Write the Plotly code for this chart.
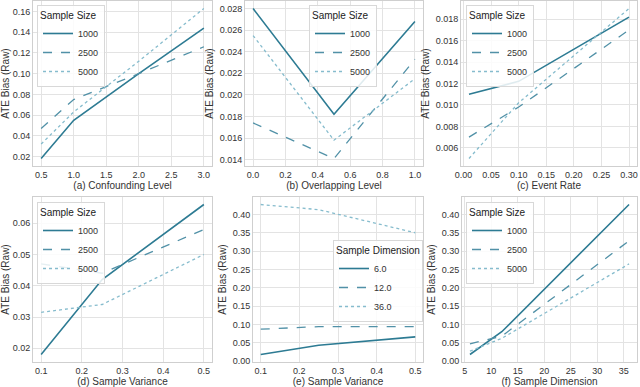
import plotly.graph_objects as go

# panel (a) confounding level
conf_x = [0.5, 1.0, 2.0, 3.0]
conf_1000 = [0.018, 0.055, 0.100, 0.144]
conf_2500 = [0.047, 0.075, 0.100, 0.126]
conf_5000 = [0.032, 0.063, 0.112, 0.163]

# panel (b) overlapping level
ovl_x = [0.0, 0.5, 1.0]
ovl_1000 = [0.0280, 0.0182, 0.0268]
ovl_2500 = [0.0174, 0.0141, 0.0233]
ovl_5000 = [0.0255, 0.0158, 0.0215]

# panel (c) event rate
evt_x = [0.01, 0.10, 0.30]
evt_1000 = [0.0110, 0.0122, 0.0182]
evt_2500 = [0.0070, 0.0098, 0.0170]
evt_5000 = [0.0050, 0.0102, 0.0190]

# panel (d) sample variance
var_x = [0.1, 0.25, 0.5]
var_1000 = [0.018, 0.042, 0.066]
var_2500 = [0.047, 0.044, 0.058]
var_5000 = [0.0315, 0.034, 0.050]

# panel (e) sample variance by dimension
dimvar_x = [0.1, 0.25, 0.5]
dimvar_6 = [0.018, 0.043, 0.066]
dimvar_12 = [0.087, 0.094, 0.094]
dimvar_36 = [0.427, 0.413, 0.350]

# panel (f) sample dimension
dim_x = [6, 12, 36]
dim_1000 = [0.018, 0.080, 0.427]
dim_2500 = [0.047, 0.068, 0.328]
dim_5000 = [0.027, 0.062, 0.265]

size_names = ["1000", "2500", "5000"]
dim_names = ["6.0", "12.0", "36.0"]

colors = ["#2d7b93", "#5191a7", "#86bccd"]
dashes = ["solid", "dash", "dot"]
FONT = "Liberation Sans, Arial, sans-serif"
GRID = "#e3e3e3"
EDGE = "#cfcfcf"

W, H = 640, 387
def px_x(a, b):
    return [a / W, b / W]
def px_y(top, bot):
    return [1 - bot / H, 1 - top / H]

panels = [
    # x, ys, names, xlabel, xdomain, ydomain, xrange, yrange, xticks, yticks, xfmt, yfmt, legend box (left, top px), legend title
    (conf_x, [conf_1000, conf_2500, conf_5000], size_names, "(a) Confounding Level",
     px_x(33, 212), px_y(1, 166), [0.375, 3.125], [0.0108, 0.1702],
     [0.5, 1.0, 1.5, 2.0, 2.5, 3.0], [0.02, 0.04, 0.06, 0.08, 0.10, 0.12, 0.14, 0.16], ".1f", ".2f", (37, 5), "Sample Size"),
    (ovl_x, [ovl_1000, ovl_2500, ovl_5000], size_names, "(b) Overlapping Level",
     px_x(245, 423), px_y(1, 166), [-0.05, 1.05], [0.01341, 0.02870],
     [0.0, 0.2, 0.4, 0.6, 0.8, 1.0], [0.014, 0.016, 0.018, 0.020, 0.022, 0.024, 0.026, 0.028], ".1f", ".3f", (309, 5), "Sample Size"),
    (evt_x, [evt_1000, evt_2500, evt_5000], size_names, "(c) Event Rate",
     px_x(461, 637), px_y(1, 166), [-0.0045, 0.3145], [0.0043, 0.0197],
     [0.0, 0.05, 0.10, 0.15, 0.20, 0.25, 0.30], [0.006, 0.008, 0.010, 0.012, 0.014, 0.016, 0.018], ".2f", ".3f", (466, 5), "Sample Size"),
    (var_x, [var_1000, var_2500, var_5000], size_names, "(d) Sample Variance",
     px_x(33, 212), px_y(197, 362), [0.08, 0.52], [0.0156, 0.0684],
     [0.1, 0.2, 0.3, 0.4, 0.5], [0.02, 0.03, 0.04, 0.05, 0.06], ".1f", ".2f", (37, 202), "Sample Size"),
    (dimvar_x, [dimvar_6, dimvar_12, dimvar_36], dim_names, "(e) Sample Variance",
     px_x(253, 423), px_y(197, 362), [0.08, 0.52], [-0.0025, 0.4475],
     [0.1, 0.2, 0.3, 0.4, 0.5], [0.0, 0.05, 0.10, 0.15, 0.20, 0.25, 0.30, 0.35, 0.40], ".1f", ".2f", (333, 240), "Sample Dimension"),
    (dim_x, [dim_1000, dim_2500, dim_5000], size_names, "(f) Sample Dimension",
     px_x(462, 637), px_y(197, 362), [4.5, 37.5], [-0.0025, 0.4475],
     [5, 10, 15, 20, 25, 30, 35], [0.0, 0.05, 0.10, 0.15, 0.20, 0.25, 0.30, 0.35, 0.40], "d", ".2f", (466, 202), "Sample Size"),
]

fig = go.Figure()
layout = {}
for i, (x, ys, names, xlabel, xd, yd, xr, yr, xt, yt, xf, yf, lpos, ltitle) in enumerate(panels):
    n = "" if i == 0 else str(i + 1)
    leg = "legend" + n
    for j, y in enumerate(ys):
        fig.add_trace(go.Scatter(
            x=x, y=y, mode="lines", name=names[j],
            line=dict(color=colors[j], dash=dashes[j], width=1.6 if j == 0 else 1.3),
            xaxis="x" + n, yaxis="y" + n, legend=leg,
        ))
    layout["xaxis" + n] = dict(
        domain=xd, range=xr, anchor="y" + n, tickvals=xt, tickformat=xf,
        title=dict(text=xlabel, standoff=2, font=dict(size=10, color="#333")),
        automargin=False,
        showgrid=True, gridcolor=GRID, gridwidth=1, zeroline=False,
        showline=True, linecolor=EDGE, mirror=True, ticks="",
        tickfont=dict(size=9, color="#333"),
    )
    layout["yaxis" + n] = dict(
        domain=yd, range=yr, anchor="x" + n, tickvals=yt, tickformat=yf,
        title=dict(text="ATE Bias (Raw)", standoff=4, font=dict(size=10, color="#333")),
        automargin=False,
        showgrid=True, gridcolor=GRID, gridwidth=1, zeroline=False,
        showline=True, linecolor=EDGE, mirror=True, ticks="",
        tickfont=dict(size=9, color="#333"),
    )
    layout[leg] = dict(
        x=lpos[0] / W, y=1 - lpos[1] / H, xanchor="left", yanchor="top",
        title=dict(text=ltitle, font=dict(size=10, color="#222")),
        font=dict(size=9, color="#333"),
        bgcolor="rgba(255,255,255,0.85)", bordercolor="#d8d8d8", borderwidth=1,
        tracegroupgap=0, itemwidth=30,
    )

fig.update_layout(
    width=W, height=H,
    margin=dict(l=0, r=0, t=0, b=0, autoexpand=False),
    paper_bgcolor="white", plot_bgcolor="white",
    font=dict(family=FONT, color="#333"),
    **layout,
)

# drop the page's default body margin so the 640x387 figure fills the window
fig.write_html("out.html", config={"displayModeBar": False},
               post_script="document.body.style.margin='0';")
